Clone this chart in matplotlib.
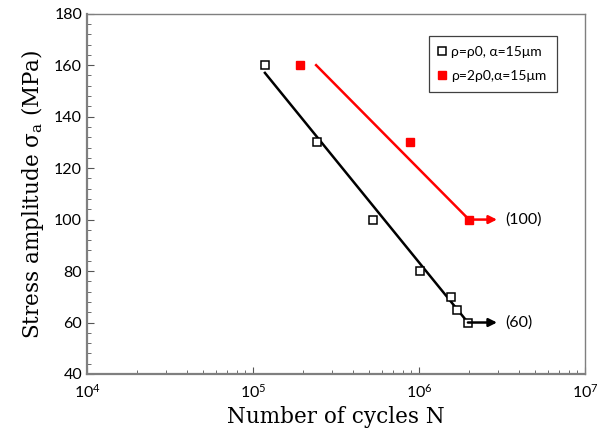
import matplotlib.pyplot as plt
from matplotlib.ticker import MultipleLocator, LogLocator, NullFormatter
import numpy as np

# 数据
n_rho0 = [1.18e5, 2.43e5, 5.28e5, 1.01e6, 1.56e6, 1.69e6, 1.97e6]
s_rho0 = [160, 130, 100, 80, 70, 65, 60]
n_2rho0 = [1.92e5, 8.8e5, 2.0e6]
s_2rho0 = [160, 130, 100]

# 拟合线端点
fit_n_rho0 = [1.18e5, 1.97e6]
fit_s_rho0 = [157, 60]
fit_n_2rho0 = [2.4e5, 2.0e6]
fit_s_2rho0 = [160, 100]

# 跑出（run-out）箭头
runout_n_start = [1.97e6, 2.0e6]
runout_n_end = [2.95e6, 2.95e6]
runout_s = [60, 100]
runout_labels = ['(60)', '(100)']
runout_colors = ['black', 'red']

fig = plt.figure(figsize=(6.02, 4.32), dpi=100)
ax = fig.add_axes([0.1445, 0.1343, 0.8273, 0.834])

ax.plot(fit_n_rho0, fit_s_rho0, color='black', linewidth=1.8, zorder=2)
ax.plot(fit_n_2rho0, fit_s_2rho0, color='red', linewidth=1.8, zorder=2)

ax.plot(n_rho0, s_rho0, linestyle='none', marker='s', markersize=5.5,
        markerfacecolor='white', markeredgecolor='black', markeredgewidth=1.1,
        label='ρ=ρ0, α=15μm', zorder=3)
ax.plot(n_2rho0, s_2rho0, linestyle='none', marker='s', markersize=5.5,
        markerfacecolor='red', markeredgecolor='red',
        label='ρ=2ρ0,α=15μm', zorder=3)

for x0, x1, y, lab, c in zip(runout_n_start, runout_n_end, runout_s, runout_labels, runout_colors):
    ax.annotate('', xy=(x1, y), xytext=(x0, y),
                arrowprops=dict(arrowstyle='-|>', color=c, lw=1.8, mutation_scale=12,
                                shrinkA=0, shrinkB=0))
    ax.text(x1 * 1.12, y, lab, fontsize=11.5, family='Lato', va='center', ha='left')

ax.set_xscale('log')
ax.set_xlim(1e4, 1e7)
ax.set_ylim(40, 180)
ax.yaxis.set_major_locator(MultipleLocator(20))
ax.yaxis.set_minor_locator(MultipleLocator(4))
ax.xaxis.set_major_locator(LogLocator(base=10))
ax.xaxis.set_minor_locator(LogLocator(base=10, subs=np.arange(2, 10)))
ax.xaxis.set_minor_formatter(NullFormatter())

ax.tick_params(which='both', direction='in', color='#555555', top=False, right=False)
ax.tick_params(which='major', length=5, labelsize=11.5)
ax.tick_params(which='minor', length=3)
for lab in ax.get_xticklabels() + ax.get_yticklabels():
    lab.set_family('Lato')
ax.tick_params(axis='x', pad=6)

for sp in ax.spines.values():
    sp.set_color('#7f7f7f')
    sp.set_linewidth(1.0)
ax.spines['left'].set_linewidth(1.6)
ax.spines['bottom'].set_linewidth(1.6)

ax.set_xlabel('Number of cycles N', family='DejaVu Serif', fontsize=15.5)
ax.set_ylabel(r'Stress amplitude $\mathregular{\sigma_a}$ (MPa)', family='DejaVu Serif',
              fontsize=15.5, labelpad=6)

leg = ax.legend(loc='upper right', bbox_to_anchor=(0.944, 0.939), borderaxespad=0,
                fancybox=False, prop={'family': 'Lato', 'size': 10}, handlelength=0.5,
                handletextpad=0.4, labelspacing=0.85, borderpad=0.75, framealpha=1)
leg.get_frame().set_edgecolor('#404040')
leg.get_frame().set_linewidth(0.9)

plt.savefig('out.png', dpi=100)
